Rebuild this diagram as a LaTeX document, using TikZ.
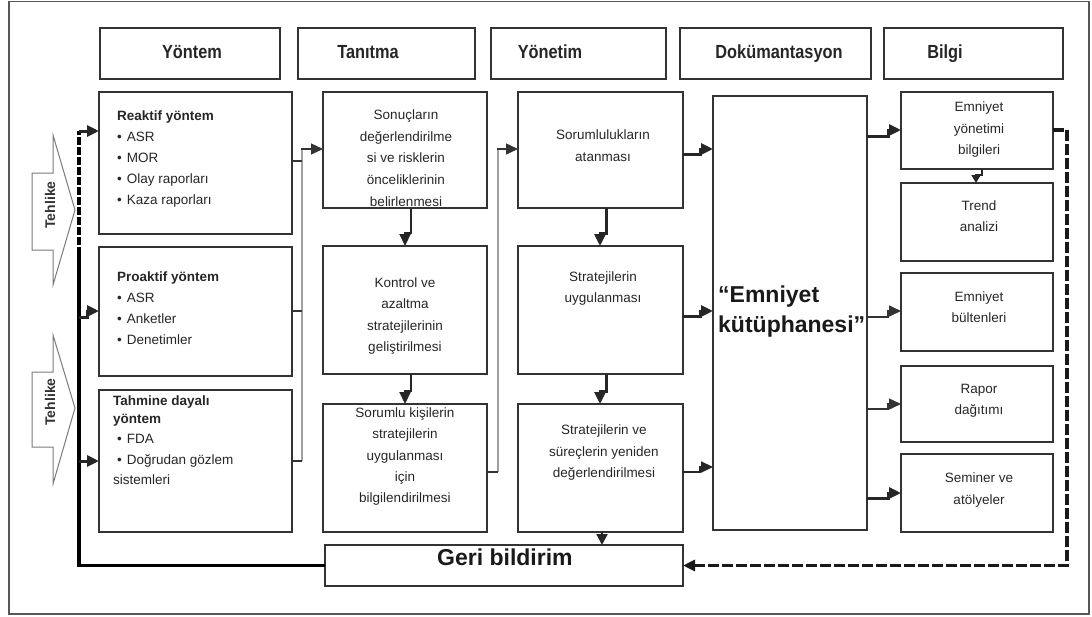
\documentclass[tikz,border=0pt]{standalone}
\usepackage{fontspec}
\setmainfont{Liberation Sans}
\newfontfamily\hdrfont{Liberation Sans}[FakeStretch=0.86]
\usetikzlibrary{arrows.meta}
\definecolor{ink}{HTML}{333333}
\definecolor{framecol}{HTML}{5A5655}
\definecolor{lgray}{HTML}{A0A0A0}
\definecolor{arrowgray}{HTML}{7A7A7A}

% box by its corners: name, x1, y1, x2, y2
\newcommand\bx[5]{\node[box, minimum width={(#4)-(#2)}, minimum height={(#5)-(#3)}] (#1) at ({((#2)+(#4))/2},{((#3)+(#5))/2}) {};}
% centred lines of text: prefix, x, first baseline, step, list
\newcommand\clines[5]{\foreach \s [count=\k from 0] in {#5} \node[txt, anchor=base] (#1\k) at (#2, {#3+\k*#4}) {\s};}

\begin{document}
\begin{tikzpicture}[x=1pt, y=-1pt,
  box/.style={draw=ink, line width=1.5pt, inner sep=0pt, outer sep=0pt},
  txt/.style={inner sep=0pt, font=\fontsize{13.5}{16}\selectfont, text=black!85},
  btxt/.style={txt, font=\fontsize{13.5}{16}\selectfont\bfseries},
  hd/.style={inner sep=0pt, font=\hdrfont\bfseries\fontsize{19}{22}\selectfont, text=black!85},
  big/.style={inner sep=0pt, font=\bfseries\fontsize{23}{26}\selectfont, text=black!90},
  tip/.style={-{Triangle[length=12pt,width=11pt]}},
  thickarrow/.style={tip, draw=black!85, line width=3pt},
  medarrow/.style={tip, draw=black!85, line width=2.2pt},
  thinarrow/.style={tip, draw=black!80, line width=1.4pt},
  stub/.style={draw=ink, line width=1.4pt},
  gline/.style={draw=lgray, line width=1.8pt},
  feedleft/.style={draw=black, line width=3.5pt},
  feedright/.style={draw=black!90, line width=3.2pt, dash pattern=on 11pt off 3pt},
  hazard/.style={draw=arrowgray, line width=1pt, fill=white},
  hazardtext/.style={inner sep=0pt, rotate=90, font=\bfseries\fontsize{14}{16}\selectfont, text=black!80}
]
\useasboundingbox (0,0) rectangle (1092,616);
\draw[framecol, line width=1.6pt] (9,1.5) rectangle (1089,614);

% column headers
\bx{hYon}{100}{28}{280}{79}
\bx{hTan}{298}{28}{475}{79}
\bx{hYnt}{491}{28}{666}{79}
\bx{hDok}{680}{28}{871}{79}
\bx{hBil}{884}{28}{1063}{79}
\node[hd, anchor=base] (lYon) at (192,58) {Yöntem};
\node[hd, anchor=base] (lTan) at (368,58) {Tanıtma};
\node[hd, anchor=base] (lYnt) at (550,58) {Yönetim};
\node[hd, anchor=base] (lDok) at (779,58) {Dokümantasyon};
\node[hd, anchor=base] (lBil) at (945,58) {Bilgi};

% method boxes
\bx{reak}{99}{92}{292}{234}
\bx{proa}{99}{247}{292}{376}
\bx{tahm}{99}{390}{292}{532}
\node[btxt, anchor=base west] (r0) at (117,120.5) {Reaktif yöntem};
\node[txt, anchor=base west] (r1) at (117,141.5) {•\hspace{5pt}ASR};
\node[txt, anchor=base west] (r2) at (117,162.5) {•\hspace{5pt}MOR};
\node[txt, anchor=base west] (r3) at (117,183.5) {•\hspace{5pt}Olay raporları};
\node[txt, anchor=base west] (r4) at (117,204.5) {•\hspace{5pt}Kaza raporları};
\node[btxt, anchor=base west] (p0) at (117,281.5) {Proaktif yöntem};
\node[txt, anchor=base west] (p1) at (117,302) {•\hspace{5pt}ASR};
\node[txt, anchor=base west] (p2) at (117,323) {•\hspace{5pt}Anketler};
\node[txt, anchor=base west] (p3) at (117,344) {•\hspace{5pt}Denetimler};
\node[btxt, anchor=base west] (t0) at (113,405.5) {Tahmine dayalı};
\node[btxt, anchor=base west] (t1) at (113,423.5) {yöntem};
\node[txt, anchor=base west] (t2) at (117,443.5) {•\hspace{5pt}FDA};
\node[txt, anchor=base west] (t3) at (117,464.5) {•\hspace{5pt}Doğrudan gözlem};
\node[txt, anchor=base west] (t4) at (113,484) {sistemleri};

% introduction column
\bx{sonu}{323}{92}{487}{208}
\bx{kont}{323}{246}{487}{374}
\bx{sork}{323}{404}{487}{532}
\clines{sa}{406}{119.5}{21.7}{Sonuçların, değerlendirilme, si ve risklerin, önceliklerinin, belirlenmesi}
\clines{ka}{405}{287.5}{21.3}{Kontrol ve, azaltma, stratejilerinin, geliştirilmesi}
\clines{ska}{405}{417.5}{21.3}{Sorumlu kişilerin, stratejilerin, uygulanması, için, bilgilendirilmesi}

% management column
\bx{soru}{518}{92}{683}{208}
\bx{stru}{518}{246}{683}{374}
\bx{strv}{518}{404}{683}{532}
\clines{sua}{603}{139.5}{22}{Sorumlulukların, atanması}
\clines{sta}{603}{281.5}{20.5}{Stratejilerin, uygulanması}
\clines{sva}{604}{434.5}{21.5}{Stratejilerin ve, süreçlerin yeniden, değerlendirilmesi}

% documentation column
\bx{kut}{713}{96}{867}{530}
\node[big, anchor=base west] (kt1) at (718,302) {“Emniyet};
\node[big, anchor=base west] (kt2) at (718,332) {kütüphanesi”};

% information column
\bx{eyb}{901}{92}{1053}{169}
\bx{trend}{901}{183}{1053}{261}
\bx{bul}{901}{273}{1053}{351}
\bx{rap}{901}{366}{1053}{442}
\bx{sem}{901}{454}{1053}{532}
\clines{ea}{979}{111.5}{21.5}{Emniyet, yönetimi, bilgileri}
\clines{ta}{979}{210.5}{21}{Trend, analizi}
\clines{ba}{979}{301.5}{20.5}{Emniyet, bültenleri}
\clines{ra}{979}{393.5}{21}{Rapor, dağıtımı}
\clines{sma}{979}{482.5}{21.5}{Seminer ve, atölyeler}

% feedback box
\bx{geri}{325}{545}{683}{586}
\node[big, anchor=base west] (gb) at (437,565) {Geri bildirim};

% hazard arrows
\draw[hazard] (32,173) -- (53,173) -- (53,135) -- (75,210) -- (53,285) -- (53,250) -- (32,250) -- cycle;
\node[hazardtext] (hz1) at (50,205) {Tehlike};
\draw[hazard] (32,372) -- (53,372) -- (53,335) -- (75,408) -- (53,484) -- (53,447) -- (32,447) -- cycle;
\node[hazardtext] (hz2) at (50,402) {Tehlike};

% feedback loop on the left, back into the methods
\draw[feedleft] (geri.west) -- (79,565.5) -- (79,255);
\draw[feedleft, dash pattern=on 8pt off 2pt] (79,255) -- (79,131);
\draw[thickarrow] (79,131) -- (reak.west |- 0,131);
\draw[thickarrow] (79,317) -- (87,317) -- (87,311) -- (proa.west |- 0,311);
\draw[thickarrow] (79,461) -- (tahm.west |- 0,461);

% methods into the introduction column
\draw[gline] (302,461) -- (302,149);
\draw[stub] (reak.east |- 0,161) -- (302,161);
\draw[stub] (proa.east |- 0,311) -- (302,311);
\draw[stub] (tahm.east |- 0,461) -- (302,461);
\draw[thinarrow] (301,149) -- (sonu.west |- 0,149);

% introduction into management
\draw[gline] (498,472) -- (498,149);
\draw[stub] (sork.east |- 0,472) -- (498,472);
\draw[thinarrow] (497,149) -- (soru.west |- 0,149);

% vertical steps
\draw[medarrow] (sonu.south -| 411,0) -- (411,233) -- (405,233) -- (kont.north -| 405,0);
\draw[medarrow] (kont.south -| 411,0) -- (411,391) -- (405,391) -- (sork.north -| 405,0);
\draw[thickarrow] (soru.south -| 606,0) -- (606,233) -- (600,233) -- (stru.north -| 600,0);
\draw[thickarrow] (stru.south -| 606,0) -- (606,391) -- (600,391) -- (strv.north -| 600,0);
\draw[medarrow, -{Triangle[length=11pt,width=11pt]}] (strv.south -| 602,0) -- (geri.north -| 602,0);
\draw[medarrow, -{Triangle[length=8pt,width=9pt]}] (eyb.south -| 982,0) -- (982,175) -- (976,175) -- (trend.north -| 976,0);

% management into documentation
\draw[thickarrow] (soru.east |- 0,154) -- (700,154) -- (700,149) -- (kut.west |- 0,149);
\draw[thickarrow] (stru.east |- 0,316) -- (700,316) -- (700,311) -- (kut.west |- 0,311);
\draw[medarrow] (strv.east |- 0,472) -- (700,472) -- (700,467) -- (kut.west |- 0,467);

% documentation into information
\draw[thickarrow] (kut.east |- 0,136) -- (888,136) -- (888,130) -- (eyb.west |- 0,130);
\draw[thinarrow] (kut.east |- 0,317) -- (888,317) -- (888,311) -- (bul.west |- 0,311);
\draw[thinarrow] (kut.east |- 0,409) -- (888,409) -- (888,404) -- (rap.west |- 0,404);
\draw[thickarrow] (kut.east |- 0,498) -- (888,498) -- (888,493) -- (sem.west |- 0,493);

% feedback loop on the right, back to the feedback box
\draw[feedright, -{Triangle[length=12pt,width=11pt]}] (eyb.east |- 0,130) -- (1067,130) -- (1067,565.5) -- (geri.east);
\end{tikzpicture}
\end{document}
